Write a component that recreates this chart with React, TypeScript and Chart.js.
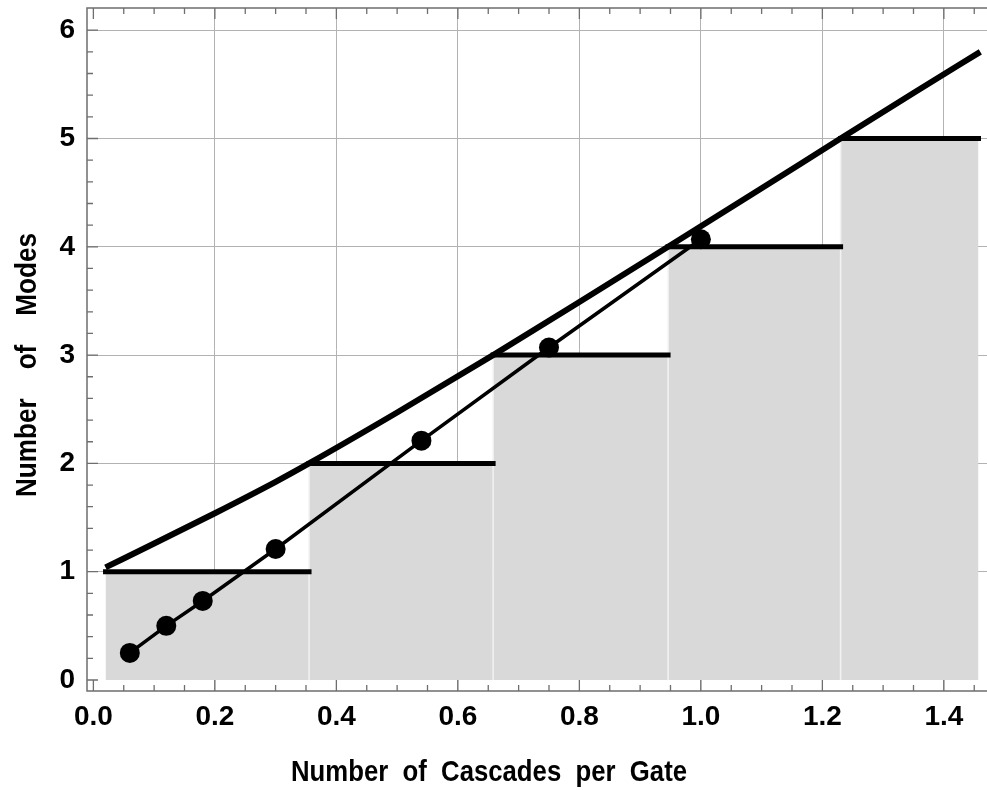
import React, { useEffect, useRef } from "react";
import { Chart, registerables } from "chart.js";

Chart.register(...registerables);

// ---- data ----
const stepStarts = [0.02, 0.355, 0.658, 0.946, 1.23];
const stepEnds = [0.355, 0.658, 0.946, 1.23, 1.457];
const stepHeights = [1, 2, 3, 4, 5];

const curveX = [0.02, 0.1, 0.2, 0.3, 0.355, 0.5, 0.658, 0.8, 0.946, 1.1, 1.23, 1.35, 1.46];
const curveY = [1.04, 1.26, 1.54, 1.83, 2.0, 2.47, 3.0, 3.49, 4.0, 4.54, 5.0, 5.42, 5.8];

const pointX = [0.06, 0.12, 0.18, 0.3, 0.54, 0.75, 1.0];
const pointY = [0.25, 0.5, 0.73, 1.21, 2.21, 3.07, 4.07];

const xTickValues = [0, 0.2, 0.4, 0.6, 0.8, 1.0, 1.2, 1.4];
const yTickValues = [0, 1, 2, 3, 4, 5, 6];

const xTitle = "Number  of  Cascades  per  Gate";
const yTitle = "Number    of    Modes";

const FONT = '"Liberation Sans", Arial, Helvetica, sans-serif';

function drawFitted(ctx: any, text: string, width: number) {
  const w = ctx.measureText(text).width;
  const s = width / w;
  ctx.save();
  ctx.scale(s, 1);
  ctx.fillText(text, 0, 0);
  ctx.restore();
}

const framePlugin = {
  id: "framePlugin",
  afterDatasetsDraw(chart: any) {
    const { ctx, chartArea, scales } = chart;
    const xs = scales.x;
    const ys = scales.y;
    const { left, right, top, bottom } = chartArea;
    ctx.save();
    ctx.strokeStyle = "#6e6e6e";
    ctx.lineWidth = 1.5;
    ctx.beginPath();
    ctx.moveTo(right + 5, top);
    ctx.lineTo(left, top);
    ctx.lineTo(left, bottom);
    ctx.lineTo(right + 5, bottom);
    ctx.stroke();

    const major = 11;
    const minor = 6;
    ctx.lineWidth = 1.3;
    ctx.beginPath();
    for (let i = 0; i <= 29; i++) {
      const v = i * 0.05;
      const px = xs.getPixelForValue(v);
      if (px < left || px > right) continue;
      const len = i % 4 === 0 ? major : minor;
      ctx.moveTo(px, bottom);
      ctx.lineTo(px, bottom - len);
      ctx.moveTo(px, top);
      ctx.lineTo(px, top + len);
    }
    for (let i = 0; i <= 30; i++) {
      const v = i * 0.2;
      const py = ys.getPixelForValue(v);
      if (py < top + 1 || py > bottom) continue;
      const len = i % 5 === 0 ? major : minor;
      ctx.moveTo(left, py);
      ctx.lineTo(left + len, py);
    }
    ctx.stroke();
    ctx.restore();
  },
  afterDraw(chart: any) {
    const { ctx } = chart;
    ctx.save();
    ctx.fillStyle = "#000";
    ctx.font = `bold 30px ${FONT}`;
    ctx.textAlign = "center";
    ctx.textBaseline = "middle";
    ctx.save();
    ctx.translate(489, 773);
    drawFitted(ctx, xTitle, 396);
    ctx.restore();
    ctx.save();
    ctx.translate(28, 365);
    ctx.rotate(-Math.PI / 2);
    drawFitted(ctx, yTitle, 264);
    ctx.restore();
    ctx.restore();
  },
};

export default function App() {
  const canvasRef = useRef<HTMLCanvasElement | null>(null);

  useEffect(() => {
    const canvas = canvasRef.current;
    if (!canvas) return;

    const datasets: any[] = [];

    datasets.push({
      label: "points",
      data: pointX.map((x, i) => ({ x, y: pointY[i] })),
      borderColor: "#000",
      backgroundColor: "#000",
      borderWidth: 3.5,
      pointRadius: 10,
      pointBackgroundColor: "#000",
      pointBorderWidth: 0,
      fill: false,
      tension: 0,
      order: 1,
    });

    datasets.push({
      label: "curve",
      data: curveX.map((x, i) => ({ x, y: curveY[i] })),
      borderColor: "#000",
      borderWidth: 6,
      pointRadius: 0,
      fill: false,
      cubicInterpolationMode: "monotone",
      order: 2,
    });

    stepHeights.forEach((h, i) => {
      datasets.push({
        label: "stepline" + i,
        data: [
          { x: stepStarts[i], y: h },
          { x: stepEnds[i], y: h },
        ],
        borderColor: "#000",
        borderWidth: 5,
        borderCapStyle: "square",
        pointRadius: 0,
        fill: false,
        order: 3,
      });
      datasets.push({
        label: "seam" + i,
        data: [
          { x: stepStarts[i], y: 0 },
          { x: stepStarts[i], y: h },
        ],
        borderColor: i === 0 ? "rgba(0,0,0,0)" : "#f3f3f3",
        borderWidth: 1.5,
        pointRadius: 0,
        fill: false,
        order: 4,
      });
      datasets.push({
        label: "stepfill" + i,
        data: [
          { x: stepStarts[i], y: h },
          { x: stepEnds[i], y: h },
        ],
        borderColor: "rgba(0,0,0,0)",
        borderWidth: 0,
        backgroundColor: "#d9d9d9",
        pointRadius: 0,
        fill: "origin",
        order: 5,
      });
    });

    const zeroPad = (s: any) => {
      s.paddingTop = 0;
      s.paddingBottom = 0;
      s.paddingLeft = 0;
      s.paddingRight = 0;
    };

    const chart = new Chart(canvas, {
      type: "line",
      data: { datasets },
      options: {
        animation: false,
        responsive: true,
        maintainAspectRatio: false,
        devicePixelRatio: 1,
        events: [],
        layout: { autoPadding: false, padding: { top: 8, right: 0, left: 0, bottom: 0 } },
        plugins: {
          legend: { display: false },
          tooltip: { enabled: false },
          title: { display: false },
        },
        scales: {
          x: {
            type: "linear",
            min: -0.0105,
            max: 1.471,
            afterFit: (s: any) => {
              s.height = 99;
              zeroPad(s);
            },
            afterBuildTicks: (s: any) => {
              s.ticks = xTickValues.map((v) => ({ value: v }));
            },
            border: { display: false },
            grid: {
              drawTicks: false,
              lineWidth: 1,
              color: (c: any) => (c.tick && c.tick.value === 0 ? "rgba(0,0,0,0)" : "#b2b2b2"),
            },
            ticks: {
              autoSkip: false,
              maxRotation: 0,
              minRotation: 0,
              padding: 9,
              color: "#000",
              font: { family: FONT, size: 28, weight: "bold" },
              callback: (v: any) => Number(v).toFixed(1),
            },
          },
          y: {
            type: "linear",
            min: -0.1016,
            max: 6.205,
            afterFit: (s: any) => {
              s.width = 87;
              zeroPad(s);
            },
            afterBuildTicks: (s: any) => {
              s.ticks = yTickValues.map((v) => ({ value: v }));
            },
            border: { display: false },
            grid: {
              drawTicks: false,
              lineWidth: 1,
              color: (c: any) => (c.tick && c.tick.value === 0 ? "rgba(0,0,0,0)" : "#b2b2b2"),
            },
            ticks: {
              autoSkip: false,
              padding: 12,
              color: "#000",
              font: { family: FONT, size: 28, weight: "bold" },
              callback: (v: any) => String(v),
            },
          },
        },
      },
      plugins: [framePlugin],
    } as any);

    return () => {
      chart.destroy();
    };
  }, []);

  return (
    <div
      style={{
        position: "absolute",
        left: 0,
        top: 0,
        width: 987,
        height: 790,
        overflow: "hidden",
        background: "#fff",
      }}
    >
      <canvas ref={canvasRef} style={{ display: "block" }} />
    </div>
  );
}
